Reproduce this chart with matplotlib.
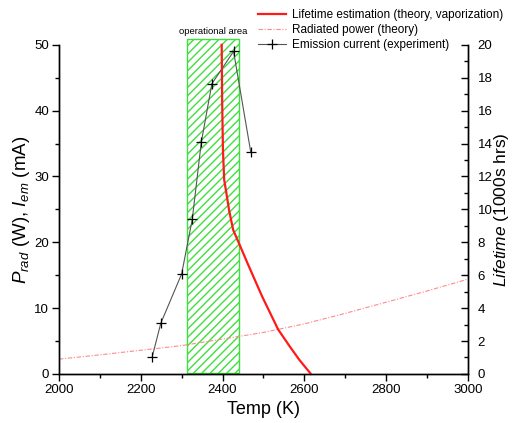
import matplotlib
matplotlib.use("Agg")
import matplotlib.pyplot as plt
from matplotlib.patches import Rectangle
from matplotlib.ticker import MultipleLocator

plt.rcParams['font.family'] = ['Liberation Sans', 'DejaVu Sans']
plt.rcParams['mathtext.fontset'] = 'custom'
plt.rcParams['mathtext.rm'] = 'Liberation Sans'
plt.rcParams['mathtext.it'] = 'Liberation Sans:italic'
plt.rcParams['hatch.linewidth'] = 1.0

# Lifetime estimation (theory, vaporization) -- right axis, 1000s hrs
life_temp = [2398, 2399, 2401, 2404, 2409, 2416, 2426, 2443, 2461, 2497, 2536, 2565, 2588, 2616]
life_hrs = [20, 16.7, 13.6, 11.8, 11.05, 9.95, 8.75, 7.78, 6.73, 4.7, 2.7, 1.65, 0.85, 0]

# Radiated power (theory) -- left axis, W
rad_temp = [2000, 2100, 2200, 2300, 2400, 2500, 2600, 2700, 2800, 2900, 3000]
rad_power = [2.25, 2.9, 3.6, 4.3, 5.3, 6.3, 7.6, 9.2, 10.9, 12.6, 14.4]

# Emission current (experiment) -- left axis, mA
em_temp = [2228, 2249, 2300, 2326, 2348, 2374, 2427, 2469]
em_current = [2.6, 7.7, 15.2, 23.5, 35.2, 44.1, 49.0, 33.7]

# Operational temperature window
op_lo, op_hi = 2314, 2440

fig = plt.figure(figsize=(5.13, 4.23), dpi=100)
ax = fig.add_axes([0.115, 0.116, 0.797, 0.778])
ax2 = ax.twinx()

rect = Rectangle((op_lo, 0.2), op_hi - op_lo, 50.7, facecolor='white',
                 edgecolor='#3ee03e', hatch='////', linewidth=1.0,
                 clip_on=False, zorder=1)
ax.add_patch(rect)
ax.text((op_lo + op_hi) / 2, 51.4, 'operational area', ha='center', va='bottom',
        fontsize=6.8)

l_rad, = ax.plot(rad_temp, rad_power, color='#ff8a8a', lw=0.8,
                 linestyle=(0, (4, 1.5, 1, 1.5)), label='Radiated power (theory)', zorder=2)
l_em, = ax.plot(em_temp, em_current, color='#555555', lw=0.8, marker='+',
                markersize=6.5, markeredgecolor='black', markeredgewidth=0.9,
                label='Emission current (experiment)', zorder=3, clip_on=False)
l_life, = ax2.plot(life_temp, life_hrs, color='#ff1a1a', lw=1.6,
                   label='Lifetime estimation (theory, vaporization)', clip_on=False)

ax.set_xlim(2000, 3000)
ax.set_ylim(0, 50)
ax2.set_ylim(0, 20)

ax.xaxis.set_major_locator(MultipleLocator(200))
ax.xaxis.set_minor_locator(MultipleLocator(100))
ax.yaxis.set_major_locator(MultipleLocator(10))
ax.yaxis.set_minor_locator(MultipleLocator(5))
ax2.yaxis.set_major_locator(MultipleLocator(2))
ax2.yaxis.set_minor_locator(MultipleLocator(1))

for a in (ax, ax2):
    a.spines['top'].set_visible(False)
    for s in a.spines.values():
        s.set_linewidth(1.0)
ax.tick_params(axis='both', which='major', direction='out', length=5, width=1,
               labelsize=9.5, pad=2)
ax.tick_params(axis='both', which='minor', direction='out', length=3, width=1)
ax2.tick_params(axis='y', which='major', direction='in', length=5, width=1,
                labelsize=9.5, pad=7)
ax2.tick_params(axis='y', which='minor', direction='in', length=3, width=1)

ax.set_xlabel('Temp (K)', fontsize=13, labelpad=4)
ax.set_ylabel(r'$P_{rad}$ (W), $I_{em}$ (mA)', fontsize=13.5, labelpad=2)
ax2.set_ylabel(r'$Lifetime$ (1000s hrs)', fontsize=12.5, labelpad=0)

fig.legend(handles=[l_life, l_rad, l_em], loc='upper right',
           bbox_to_anchor=(0.995, 0.995), frameon=False, fontsize=8.5,
           handlelength=2.4, handletextpad=0.5, labelspacing=0.25,
           borderaxespad=0.2)

fig.savefig('out.png', dpi=100)
